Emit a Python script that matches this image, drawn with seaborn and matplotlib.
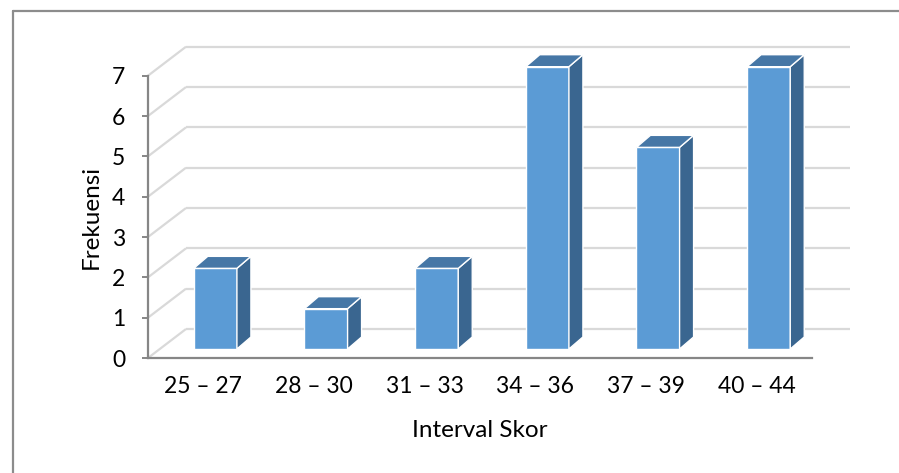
import matplotlib
matplotlib.use("Agg")
import numpy as np
import pandas as pd
import seaborn as sns
import matplotlib.pyplot as plt
from matplotlib.patches import Polygon
from matplotlib.lines import Line2D

# Frequency table of score intervals
intervals = ["25 – 27", "28 – 30", "31 – 33", "34 – 36", "37 – 39", "40 – 44"]
frekuensi = [2, 1, 2, 7, 5, 7]
y_ticks = [0, 1, 2, 3, 4, 5, 6, 7]

FRONT = "#5B9BD5"
SIDE = "#3A6690"
TOP = "#4677A6"
GRID = "#D9D9D9"
AXIS = "#868686"
FRAME = "#8C8C8C"

sns.set_theme(style="white")
plt.rcParams["font.family"] = ["Lato", "DejaVu Sans"]

W, H, DPI = 899, 473, 100
fig = plt.figure(figsize=(W / DPI, H / DPI), dpi=DPI)
ax = fig.add_axes([148 / W, (H - 358) / H, 664 / W, (358 - 75.7) / H])

df = pd.DataFrame({"Interval Skor": intervals, "Frekuensi": frekuensi})
sns.barplot(data=df, x="Interval Skor", y="Frekuensi", color=FRONT,
            width=0.39, saturation=1, edgecolor="white", linewidth=1.0,
            ax=ax, zorder=3)
ax.set_xlim(-0.5, len(intervals) - 0.5)
ax.set_ylim(0, 7)
ax.set_yticks(y_ticks)


def px_to_data(dx, dy):
    """Convert a pixel offset into data units of the axes."""
    inv = ax.transData.inverted()
    p0 = ax.transData.transform((0, 0))
    a = inv.transform(p0 + np.array([dx, dy]))
    return a[0], a[1]


# perspective offsets (pixels): back wall, bar front plane, bar depth
wall_dx, wall_dy = px_to_data(38, 29)
bar_ox, bar_oy = px_to_data(12, 9)
bar_dx, bar_dy = px_to_data(14, 12)

x_left, x_right = ax.get_xlim()

# back wall gridlines and the diagonal side-wall lines
for v in y_ticks:
    ax.plot([x_left + wall_dx, x_right + wall_dx], [v + wall_dy, v + wall_dy],
            color=GRID, lw=1.6, zorder=1, clip_on=False, solid_capstyle="butt")
    ax.plot([x_left, x_left + wall_dx], [v, v + wall_dy],
            color=GRID, lw=1.6, zorder=1, clip_on=False, solid_capstyle="butt")

# give each bar its side and top faces
for patch in list(ax.patches):
    x = patch.get_x() + bar_ox
    w = patch.get_width()
    h = patch.get_height()
    patch.set_x(x)
    patch.set_y(bar_oy)
    patch.set_clip_on(False)
    y0, y1 = bar_oy, bar_oy + h
    side = Polygon([(x + w, y0), (x + w, y1), (x + w + bar_dx, y1 + bar_dy),
                    (x + w + bar_dx, y0 + bar_dy)], closed=True,
                   facecolor=SIDE, edgecolor="white", lw=1.0, zorder=3,
                   clip_on=False, joinstyle="miter")
    top = Polygon([(x, y1), (x + w, y1), (x + w + bar_dx, y1 + bar_dy),
                   (x + bar_dx, y1 + bar_dy)], closed=True,
                  facecolor=TOP, edgecolor="white", lw=1.0, zorder=3,
                  clip_on=False, joinstyle="miter")
    ax.add_patch(side)
    ax.add_patch(top)

# axes styling
for s in ["top", "right"]:
    ax.spines[s].set_visible(False)
for s in ["left", "bottom"]:
    ax.spines[s].set_color(AXIS)
    ax.spines[s].set_linewidth(1.6)
    ax.spines[s].set_zorder(4)
ax.tick_params(axis="y", left=True, length=4.5, width=1.4, color=AXIS,
               direction="out", pad=12, labelsize=16.5, labelcolor="black")
ax.tick_params(axis="x", bottom=False, length=0, pad=13, labelsize=16.5,
               labelcolor="black")
ax.set_xlabel("")
ax.set_ylabel("")
ax.text(0.5, (358 - 430) / (358 - 75.7), "Interval Skor", transform=ax.transAxes,
        ha="center", va="center", fontsize=17.5, color="black")
ax.text((91 - 148) / 664, 0.5, "Frekuensi", transform=ax.transAxes,
        ha="center", va="center", rotation=90, fontsize=17.5, color="black")

# chart frame (left and top edges)
fig.add_artist(Line2D([13 / W, 13 / W], [0, (H - 10.7) / H], color=FRAME,
                      lw=1.6, transform=fig.transFigure))
fig.add_artist(Line2D([13 / W, 1], [(H - 10.7) / H] * 2, color=FRAME,
                      lw=1.6, transform=fig.transFigure))

fig.savefig("out.png", dpi=DPI)
